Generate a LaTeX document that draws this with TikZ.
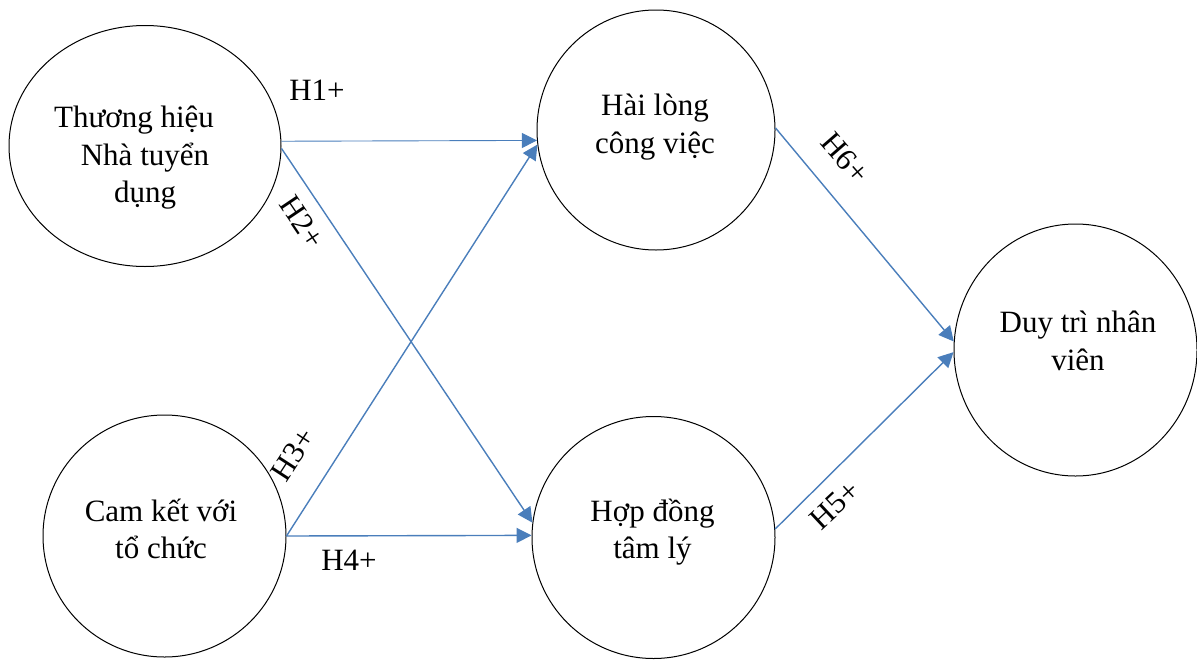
\documentclass[tikz,border=0pt]{standalone}
\usepackage{fontspec}
\setmainfont{Liberation Serif}
\usetikzlibrary{shapes.geometric,arrows.meta}
\definecolor{lineblue}{RGB}{74,126,187}
\tikzset{
  circ/.style={draw=black, line width=1pt, ellipse, inner sep=0pt},
  txt/.style={align=center, font=\fontsize{31}{37.5}\selectfont, inner sep=0pt},
  lbl/.style={font=\fontsize{31}{37.5}\selectfont, inner sep=0pt},
  conn/.style={draw=lineblue, line width=1.4pt, -{Triangle[length=15pt,width=15pt]}},
  thinconn/.style={conn, line width=0.9pt}
}
\begin{document}
\begin{tikzpicture}[x=1pt,y=-1pt]
\useasboundingbox (0,0) rectangle (1197,659);
% ellipses
\node[circ, minimum width=272pt, minimum height=241pt] (e1) at (145,146) {};
\node[circ, minimum width=243pt, minimum height=242pt] (e2) at (164.5,536) {};
\node[circ, minimum width=238pt, minimum height=240pt] (e3) at (656,130) {};
\node[circ, minimum width=243pt, minimum height=242pt] (e4) at (653.5,537.5) {};
\node[circ, minimum width=243pt, minimum height=252pt] (e5) at (1075.5,350) {};
% texts
\node[txt] (t1) at (145,158) {Thương hiệu\hspace*{22pt}\\Nhà tuyển\\dụng};
\node[txt] (t2) at (161,529) {Cam kết với\\tổ chức};
\node[txt] (t3) at (655,127) {Hài lòng\\công việc};
\node[txt] (t4) at (652.5,532) {Hợp đồng\\tâm lý};
\node[txt] (t5) at (1078,341) {Duy trì nhân\\viên};
% connectors
\draw[thinconn] (e1.2) -- (e3.185);
\draw[conn] (e1.-1) -- (e4.173);
\draw[conn] (e2.0) -- (e3.187);
\draw[conn] (e2.0) -- (e4.179.5);
\draw[conn] (e4.4) -- (e5.181);
\draw[conn] (e3.1) -- (e5.176);
% labels
\node[lbl] (l1) at (317,90) {H1+};
\node[lbl, rotate=-56] (l2) at (302,222) {H2+};
\node[lbl, rotate=57] (l3) at (293,455) {H3+};
\node[lbl] (l4) at (349,560) {H4+};
\node[lbl, rotate=43] (l5) at (835,505) {H5+};
\node[lbl, rotate=-49] (l6) at (845,158) {H6+};
\end{tikzpicture}
\end{document}
